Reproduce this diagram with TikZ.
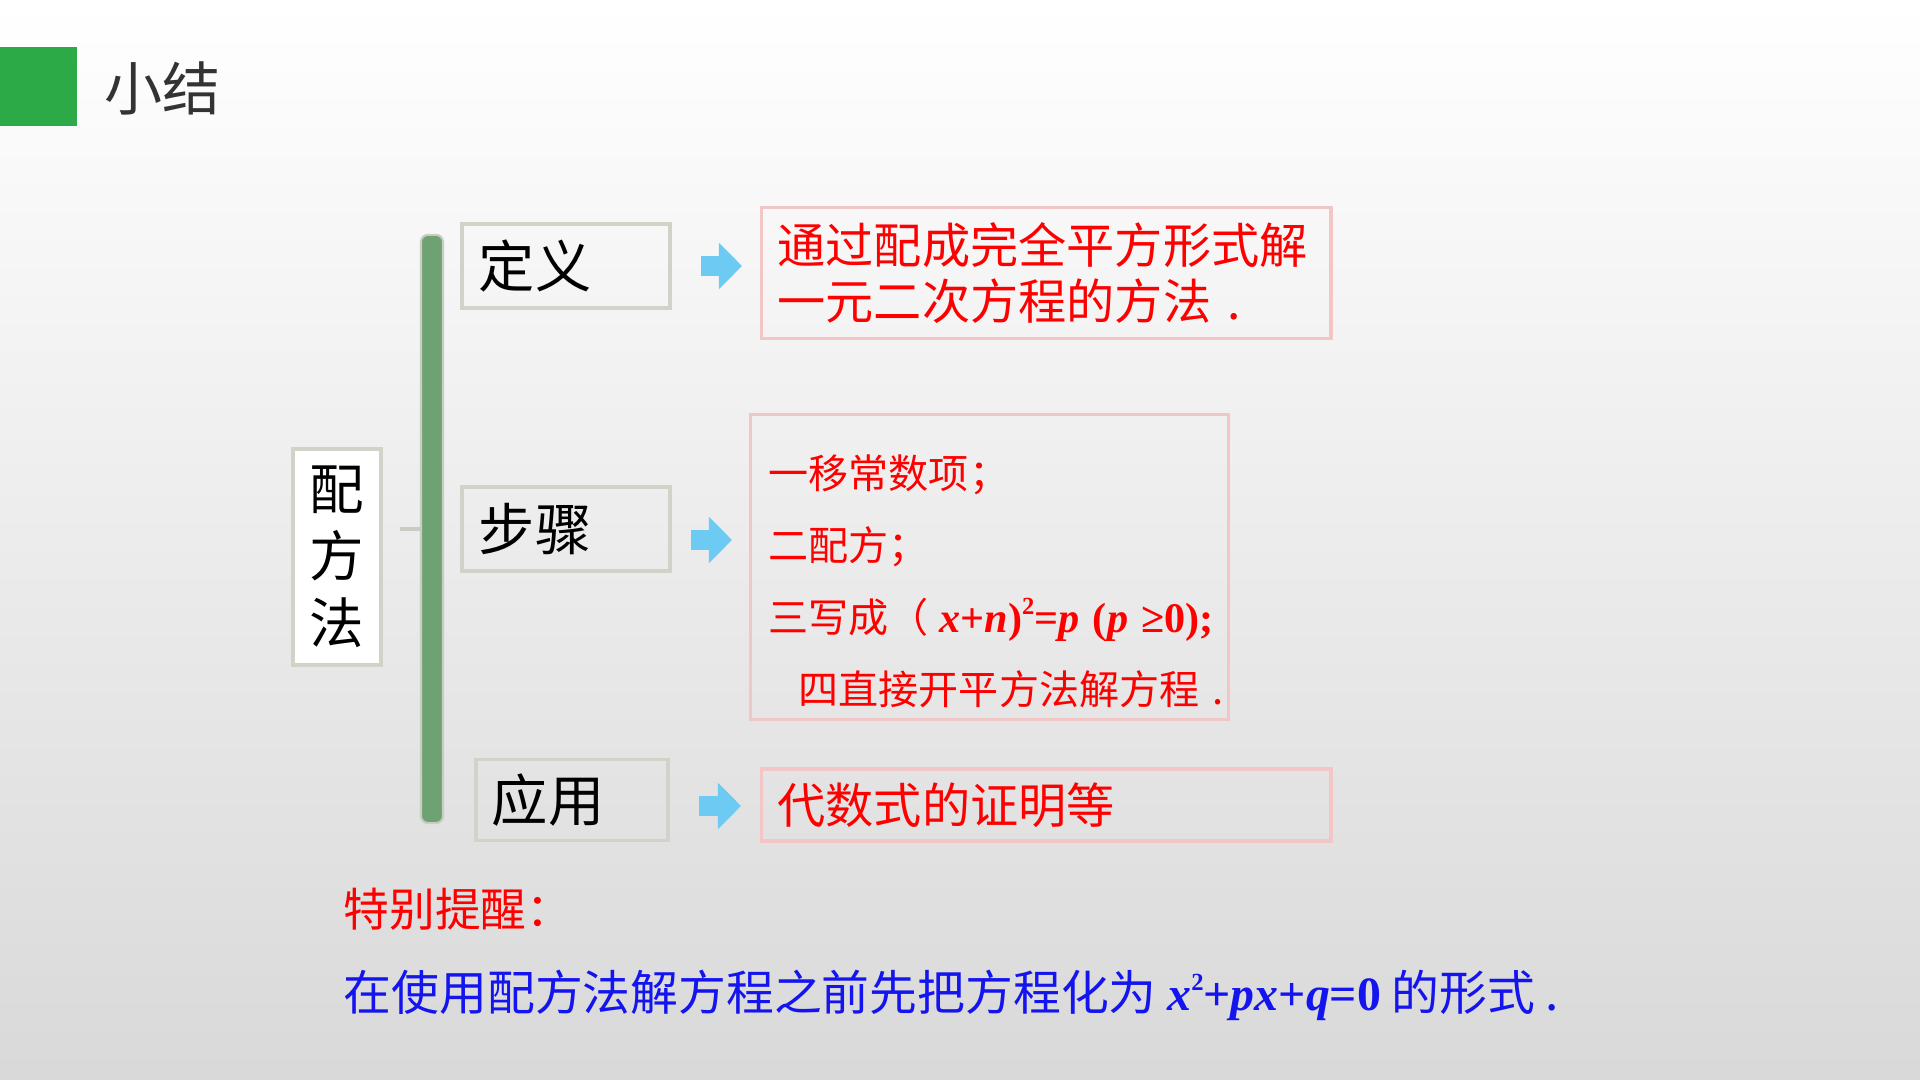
\documentclass[tikz,border=0pt]{standalone}
\usepackage{fontspec}
\setmainfont{Liberation Serif}
\newfontfamily\cjk{Noto Sans CJK SC}
\newfontfamily\tnr{Liberation Serif}
\usetikzlibrary{arrows.meta}
\definecolor{titlegreen}{HTML}{2BAA47}
\definecolor{bargreen}{HTML}{6FA273}
\definecolor{barline}{HTML}{C9CCC0}
\definecolor{boxgray}{HTML}{D2D3C8}
\definecolor{boxpink}{HTML}{F2C6C6}
\definecolor{arrowblue}{HTML}{6DCAF2}
\definecolor{txtred}{HTML}{FF0000}
\definecolor{txtblue}{HTML}{1414EE}
\newcommand{\smallsq}{\raisebox{0.42em}{\fontsize{7}{7}\selectfont 2}}

\begin{document}
\begin{tikzpicture}[x=0.01cm,y=-0.01cm,
  keybox/.style={draw=boxgray,line width=1.1pt,anchor=west,inner xsep=0.17cm,
    font=\cjk\fontsize{16}{19}\selectfont,align=left},
  notebox/.style={draw=boxpink,line width=0.9pt,anchor=west,inner xsep=0.16cm,
    text=txtred,align=left},
  bluearrow/.style={arrowblue,line width=0.2cm,-{Triangle[length=0.23cm,width=0.45cm]}}]
  \useasboundingbox (0,0) rectangle (1920,1080);
  \shade[top color=white,middle color=black!5,bottom color=black!15] (0,0) rectangle (1920,1080);

  \fill[titlegreen] (0,47) rectangle (77,126);
  \node[anchor=west,inner sep=0,font=\cjk\fontsize{16.5}{20}\selectfont,text=black!80] (title) at (104,88) {小结};

  \node[keybox,anchor=center,fill=white,minimum width=0.86cm,minimum height=2.16cm,
    align=center,font=\cjk\fontsize{15.5}{19}\selectfont] (pfm) at (337,557) {配\\方\\法};
  \node[draw=barline,fill=bargreen,line width=0.6pt,rounded corners=2pt,inner sep=0,
    minimum width=0.22cm,minimum height=5.88cm] (bar) at (432,529) {};
  \draw[barline,line width=1pt] (bar.west) -- ++(-20,0);

  \node[keybox,text width=1.74cm,minimum height=0.84cm] (def) at (460,266) {定义};
  \node[keybox,text width=1.74cm,minimum height=0.84cm] (stp) at (460,529) {步骤};
  \node[keybox,text width=1.60cm,minimum height=0.81cm,inner xsep=0.16cm] (app) at (474,800) {应用};

  \node[notebox,text width=5.37cm,minimum height=1.31cm,
    font=\cjk\fontsize{13.7}{15.9}\selectfont] (defbox) at (760,273) {通过配成完全平方形式解\\一元二次方程的方法~.};
  \node[notebox,text width=4.42cm,minimum height=3.02cm,inner xsep=0.18cm,
    font=\cjk\fontsize{11.4}{20.5}\selectfont] (stepsbox) at (749,567) {\rule{0pt}{0.62cm}一移常数项；\\
    二配方；\\
    三写成（{\tnr\fontsize{12}{20.5}\selectfont\bfseries\itshape\kern0.25em x\upshape+\itshape n\upshape)\smallsq=\itshape p~\upshape(\itshape p~\upshape≥0);}\\
    \hspace*{0.3cm}四直接开平方法解方程~.};
  \node[notebox,text width=5.37cm,minimum height=0.72cm,
    font=\cjk\fontsize{13.7}{16}\selectfont] (appbox) at (760,805) {代数式的证明等};

  \draw[bluearrow] ([xshift=0.29cm]def.east) -- ([xshift=-0.18cm]def.east -| defbox.west);
  \draw[bluearrow] ([shift={(19,11)}]stp.east) -- ([shift={(-17,11)}]stp.east -| stepsbox.west);
  \draw[bluearrow] ([shift={(29,6)}]app.east) -- ([shift={(-19,6)}]app.east -| appbox.west);

  \node[anchor=west,inner sep=0,text=txtred,font=\cjk\fontsize{13}{16}\selectfont] (tip) at (343,909) {特别提醒：};
  \node[anchor=west,inner sep=0,text=txtblue,font=\cjk\fontsize{13.6}{16}\selectfont] (rule) at (343,995)
    {在使用配方法解方程之前先把方程化为~{\tnr\bfseries\itshape x\upshape\smallsq+\itshape px\upshape+\itshape q\upshape=0}~的形式~.};
\end{tikzpicture}
\end{document}
